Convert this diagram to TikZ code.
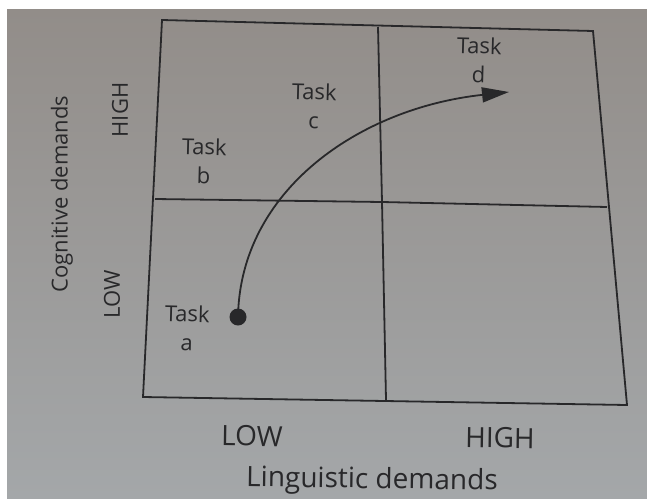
\documentclass[tikz,border=0pt]{standalone}
\usepackage{fontspec}
\setmainfont{Open Sans}
\usepackage{xcolor}
\usetikzlibrary{positioning,arrows.meta}
\definecolor{papertop}{RGB}{146,141,137}
\definecolor{paperbot}{RGB}{164,167,169}
\definecolor{ink}{RGB}{40,40,42}

\begin{document}
\begin{tikzpicture}[
  x=1pt,y=-1pt,
  quad/.style={draw=ink,line width=1.8pt,line join=miter},
  lbl/.style={text=ink,font=\fontsize{22}{29}\selectfont,align=center,inner sep=0pt,rotate=-1.5},
  sidelbl/.style={text=ink,font=\fontsize{22}{26}\selectfont,inner sep=0pt,rotate=90},
  axislbl/.style={text=ink,font=\fontsize{28}{32}\selectfont,inner sep=0pt,rotate=-0.8},
  arr/.style={-{Triangle[length=27pt,width=15pt]},draw=ink,line width=1.8pt},
]
\useasboundingbox (0,0) rectangle (647,498);
\fill[white] (0,0) rectangle (647,498);
\shade[top color=papertop,bottom color=paperbot] (7,9) rectangle (647,498);

% grid corners
\coordinate (tl) at (162,20);  \coordinate (tm) at (378,27);  \coordinate (tr) at (593,31);
\coordinate (ml) at (155,199); \coordinate (mm) at (382,202); \coordinate (mr) at (607,207);
\coordinate (bl) at (143,397); \coordinate (bm) at (386,400); \coordinate (br) at (627,405);

\draw[quad] (tl) -- (tr) -- (br) -- (bl) -- cycle;
\draw[quad] (tm) -- (mm) -- (bm);
\draw[quad] (ml) -- (mm) -- (mr);

% tasks
\node[lbl] (ta) at (187,328) {Task\\a};
\node[lbl] (tb) at (204,161) {Task\\b};
\node[lbl] (tc) at (314,106) {Task\\c};
\node[lbl] (td) at (479,60)  {Task\\d};

\node[circle,fill=ink,minimum size=17pt,inner sep=0pt] (dot) at (238,317) {};
\coordinate (tip) at (509,92);
\draw[arr] (dot.center) .. controls (240,190) and (360,108) .. (tip);

% axes
\node[sidelbl] (cog) at (62,194) {Cognitive demands};
\node[sidelbl] (chigh) at (120,110) {HIGH};
\node[sidelbl] (clow) at (112,294) {LOW};
\node[axislbl] (llow) at (252,436) {LOW};
\node[axislbl] (lhigh) at (500,438) {HIGH};
\node[axislbl] (ling) at (372,481) {Linguistic demands};
\end{tikzpicture}
\end{document}
